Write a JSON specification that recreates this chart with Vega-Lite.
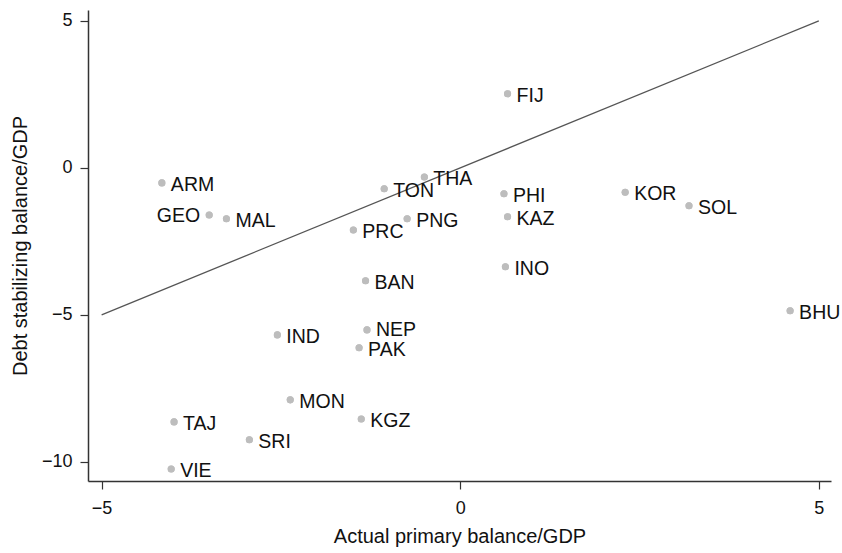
{
  "$schema": "https://vega.github.io/schema/vega-lite/v6.json",
  "width": 743,
  "height": 471,
  "autosize": {"type": "none"},
  "padding": {"left": 88, "top": 10, "right": 11, "bottom": 72},
  "background": "white",
  "config": {
    "view": {"stroke": null},
    "font": "Liberation Sans"
  },
  "datasets": {
    "countries": [
      {"code": "ARM", "actual": -4.16, "stabilizing": -0.51},
      {"code": "GEO", "actual": -3.50, "stabilizing": -1.60},
      {"code": "MAL", "actual": -3.26, "stabilizing": -1.73},
      {"code": "TAJ", "actual": -3.99, "stabilizing": -8.64},
      {"code": "SRI", "actual": -2.94, "stabilizing": -9.25},
      {"code": "VIE", "actual": -4.03, "stabilizing": -10.24},
      {"code": "IND", "actual": -2.55, "stabilizing": -5.68},
      {"code": "MON", "actual": -2.37, "stabilizing": -7.89},
      {"code": "FIJ", "actual": 0.66, "stabilizing": 2.52},
      {"code": "THA", "actual": -0.50, "stabilizing": -0.31},
      {"code": "TON", "actual": -1.06, "stabilizing": -0.71},
      {"code": "PNG", "actual": -0.74, "stabilizing": -1.73},
      {"code": "PRC", "actual": -1.49, "stabilizing": -2.11},
      {"code": "PHI", "actual": 0.61, "stabilizing": -0.88},
      {"code": "KAZ", "actual": 0.66, "stabilizing": -1.66},
      {"code": "BAN", "actual": -1.32, "stabilizing": -3.84},
      {"code": "NEP", "actual": -1.30, "stabilizing": -5.51},
      {"code": "PAK", "actual": -1.41, "stabilizing": -6.12},
      {"code": "KGZ", "actual": -1.38, "stabilizing": -8.54},
      {"code": "INO", "actual": 0.63, "stabilizing": -3.36},
      {"code": "KOR", "actual": 2.30, "stabilizing": -0.83},
      {"code": "SOL", "actual": 3.19, "stabilizing": -1.29},
      {"code": "BHU", "actual": 4.60, "stabilizing": -4.86}
    ],
    "line45": [
      {"actual": -5, "stabilizing": -5},
      {"actual": 5, "stabilizing": 5}
    ]
  },
  "layer": [
    {
      "data": {"name": "countries"},
      "mark": {"type": "circle", "color": "#bdbdbd", "opacity": 1, "size": 50},
      "encoding": {
        "x": {
          "field": "actual", "type": "quantitative",
          "scale": {"domain": [-5.19, 5.17], "nice": false, "zero": false},
          "axis": {
            "title": "Actual primary balance/GDP",
            "values": [-5, 0, 5],
            "format": "d",
            "grid": false,
            "domainColor": "#333333", "domainWidth": 1.5,
            "tickColor": "#333333", "tickWidth": 1.2, "tickSize": 8,
            "labelFont": "Liberation Sans", "labelFontSize": 18, "labelColor": "#111111", "labelPadding": 10,
            "titleFont": "Liberation Sans", "titleFontSize": 20, "titleFontWeight": "normal", "titleColor": "#111111", "titlePadding": 9
          }
        },
        "y": {
          "field": "stabilizing", "type": "quantitative",
          "scale": {"domain": [-10.65, 5.37], "nice": false, "zero": false},
          "axis": {
            "title": "Debt stabilizing balance/GDP",
            "values": [-10, -5, 0, 5],
            "format": "d",
            "grid": false,
            "domainColor": "#333333", "domainWidth": 1.5,
            "tickColor": "#333333", "tickWidth": 1.2, "tickSize": 8,
            "labelFont": "Liberation Sans", "labelFontSize": 18, "labelColor": "#111111", "labelPadding": 8,
            "titleFont": "Liberation Sans", "titleFontSize": 20, "titleFontWeight": "normal", "titleColor": "#111111", "titlePadding": 11
          }
        }
      }
    },
    {
      "mark": {"type": "rule", "color": "#d4d4d4", "strokeWidth": 1.5},
      "encoding": {"x": {"datum": 0, "type": "quantitative"}}
    },
    {
      "mark": {"type": "rule", "color": "#d4d4d4", "strokeWidth": 1.5},
      "encoding": {"y": {"datum": 0, "type": "quantitative"}}
    },
    {
      "data": {"name": "line45"},
      "mark": {"type": "line", "color": "#555555", "strokeWidth": 1.3},
      "encoding": {
        "x": {"field": "actual", "type": "quantitative"},
        "y": {"field": "stabilizing", "type": "quantitative"}
      }
    },
    {
      "data": {"name": "countries"},
      "mark": {"type": "circle", "color": "#bdbdbd", "opacity": 1, "size": 50},
      "encoding": {
        "x": {"field": "actual", "type": "quantitative"},
        "y": {"field": "stabilizing", "type": "quantitative"}
      }
    },
    {
      "data": {"name": "countries"},
      "transform": [{"filter": "datum.code != 'GEO' && datum.code != 'NEP'"}],
      "mark": {"type": "text", "align": "left", "baseline": "middle", "dx": 9, "dy": 2, "fontSize": 19.5, "color": "#111111", "font": "Liberation Sans"},
      "encoding": {
        "x": {"field": "actual", "type": "quantitative"},
        "y": {"field": "stabilizing", "type": "quantitative"},
        "text": {"field": "code"}
      }
    },
    {
      "data": {"name": "countries"},
      "transform": [{"filter": "datum.code == 'NEP'"}],
      "mark": {"type": "text", "align": "left", "baseline": "middle", "dx": 9, "dy": 0, "fontSize": 19.5, "color": "#111111", "font": "Liberation Sans"},
      "encoding": {
        "x": {"field": "actual", "type": "quantitative"},
        "y": {"field": "stabilizing", "type": "quantitative"},
        "text": {"field": "code"}
      }
    },
    {
      "data": {"name": "countries"},
      "transform": [{"filter": "datum.code == 'GEO'"}],
      "mark": {"type": "text", "align": "right", "baseline": "middle", "dx": -9, "dy": 1, "fontSize": 19.5, "color": "#111111", "font": "Liberation Sans"},
      "encoding": {
        "x": {"field": "actual", "type": "quantitative"},
        "y": {"field": "stabilizing", "type": "quantitative"},
        "text": {"field": "code"}
      }
    }
  ]
}
